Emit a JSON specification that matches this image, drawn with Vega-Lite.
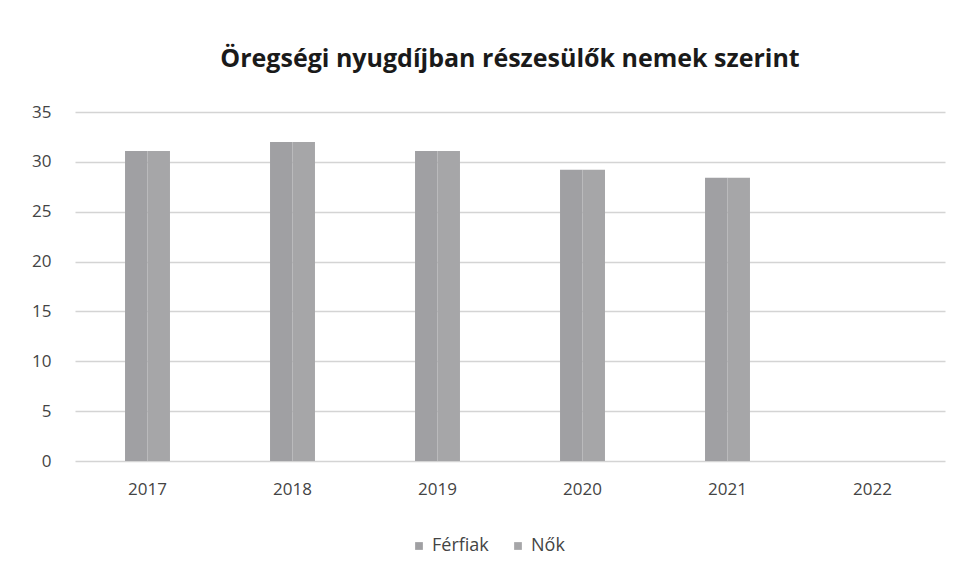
{
  "$schema": "https://vega.github.io/schema/vega-lite/v6.json",
  "width": 870,
  "height": 349,
  "autosize": {"type": "none"},
  "padding": {"left": 75, "top": 112, "right": 20, "bottom": 110},
  "background": "white",
  "title": {
    "text": "Öregségi nyugdíjban részesülők nemek szerint",
    "font": "Open Sans",
    "fontSize": 25,
    "fontWeight": "bold",
    "color": "#1a1a1a",
    "anchor": "middle",
    "offset": 31
  },
  "data": {
    "values": [
      {"ev": "2017", "nem": "Férfiak", "ertek": 31.1},
      {"ev": "2017", "nem": "Nők", "ertek": 31.1},
      {"ev": "2018", "nem": "Férfiak", "ertek": 32.0},
      {"ev": "2018", "nem": "Nők", "ertek": 32.0},
      {"ev": "2019", "nem": "Férfiak", "ertek": 31.1},
      {"ev": "2019", "nem": "Nők", "ertek": 31.1},
      {"ev": "2020", "nem": "Férfiak", "ertek": 29.2},
      {"ev": "2020", "nem": "Nők", "ertek": 29.2},
      {"ev": "2021", "nem": "Férfiak", "ertek": 28.4},
      {"ev": "2021", "nem": "Nők", "ertek": 28.4}
    ]
  },
  "mark": {"type": "bar"},
  "encoding": {
    "x": {
      "field": "ev",
      "type": "nominal",
      "scale": {"domain": ["2017", "2018", "2019", "2020", "2021", "2022"], "paddingInner": 0.69, "paddingOuter": 0.345},
      "axis": {
        "title": null,
        "labelAngle": 0,
        "labelFont": "Open Sans",
        "labelFontSize": 17,
        "labelColor": "#444444",
        "labelPadding": 20,
        "ticks": false,
        "domain": false
      }
    },
    "xOffset": {"field": "nem", "type": "nominal", "sort": ["Férfiak", "Nők"]},
    "y": {
      "field": "ertek",
      "type": "quantitative",
      "scale": {"domain": [0, 35]},
      "axis": {
        "title": null,
        "values": [0, 5, 10, 15, 20, 25, 30, 35],
        "labelFont": "Open Sans",
        "labelFontSize": 17,
        "labelColor": "#444444",
        "labelPadding": 24,
        "ticks": false,
        "domain": false,
        "gridColor": "#d4d4d4",
        "gridWidth": 1.5
      }
    },
    "color": {
      "field": "nem",
      "type": "nominal",
      "sort": ["Férfiak", "Nők"],
      "scale": {"domain": ["Férfiak", "Nők"], "range": ["#a0a0a3", "#a6a6a8"]},
      "legend": {
        "title": null,
        "orient": "none",
        "legendX": 335,
        "legendY": 425,
        "direction": "horizontal",
        "symbolType": "square",
        "symbolSize": 60,
        "labelFont": "Open Sans",
        "labelFontSize": 18,
        "labelColor": "#444444",
        "columnPadding": 20
      }
    }
  },
  "config": {"view": {"stroke": null}}
}
